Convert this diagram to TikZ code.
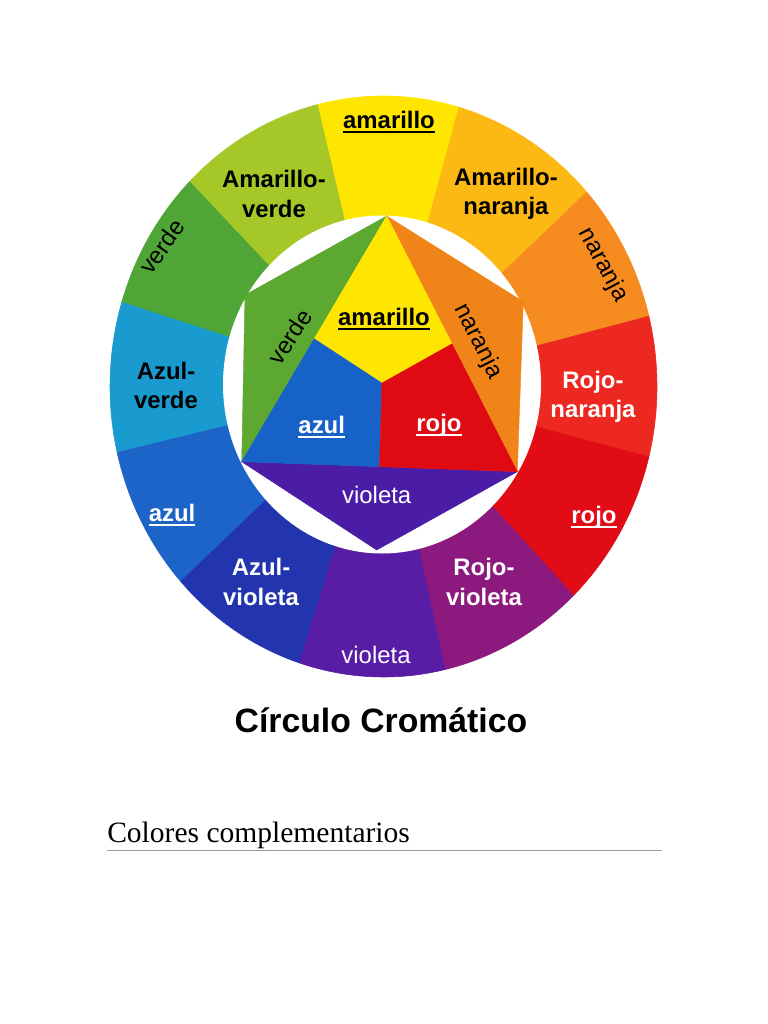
\documentclass[tikz,border=0pt]{standalone}
\usepackage{fontspec}
\setmainfont{Liberation Serif}
\newfontfamily\arialfont{Liberation Sans}
\definecolor{wAmarillo}{RGB}{255,230,0}
\definecolor{wAmNaranja}{RGB}{253,185,19}
\definecolor{wNaranja}{RGB}{246,139,31}
\definecolor{wRoNaranja}{RGB}{236,40,32}
\definecolor{wRojo}{RGB}{226,12,22}
\definecolor{wRoVioleta}{RGB}{140,25,125}
\definecolor{wVioleta}{RGB}{88,28,165}
\definecolor{wAzVioleta}{RGB}{35,52,175}
\definecolor{wAzul}{RGB}{28,100,200}
\definecolor{wAzVerde}{RGB}{25,155,208}
\definecolor{wVerde}{RGB}{80,165,55}
\definecolor{wAmVerde}{RGB}{165,200,40}
\definecolor{iAmarillo}{RGB}{255,230,0}
\definecolor{iAzul}{RGB}{22,98,200}
\definecolor{iRojo}{RGB}{224,10,18}
\definecolor{iVerde}{RGB}{93,168,48}
\definecolor{iNaranja}{RGB}{240,132,25}
\definecolor{iVioleta}{RGB}{75,28,165}
\usepackage{tikz}
\usetikzlibrary{calc}
\newsavebox\lblbox
\newcommand{\subray}[1]{\sbox\lblbox{#1}\rlap{\smash{\rule[-3.4pt]{\wd\lblbox}{1.6pt}}}\usebox\lblbox}

\begin{document}
\begin{tikzpicture}[x=0.025cm, y=-0.025cm,
    tert/.style={font=\arialfont\bfseries\fontsize{17}{21}\selectfont, align=center, inner sep=0pt},
    prim/.style={tert},
    sec/.style={font=\arialfont\fontsize{17}{21}\selectfont, inner sep=0pt}]
    \useasboundingbox (0,0) rectangle (768,1024);
    \fill[white] (0,0) rectangle (768,1024);
    % Outer ring
    \begin{scope}[shift={(383.5,386.5)}, yscale=-1]
      \foreach \a/\b/\col in {74/104/wAmarillo, 42/74/wAmNaranja, 14/42/wNaranja, -14/14/wRoNaranja,
          -46/-14/wRojo, -77/-46/wRoVioleta, -108/-77/wVioleta, -138/-108/wAzVioleta,
          -167/-138/wAzul, -197/-167/wAzVerde, 135/163/wVerde, 104/135/wAmVerde}
        \filldraw[fill=\col, draw=\col, line width=0.4pt] (0,0) -- (\a:273.5 and 290.5)
          arc[start angle=\a, end angle=\b, x radius=273.5, y radius=290.5] -- cycle;
    \end{scope}
    % White ring
    \fill[white] (382,384.5) ellipse[x radius=159, y radius=169];
    % Inner hexagon
    \coordinate (T) at (386.7,216);
    \coordinate (UL) at (245,295);
    \coordinate (LL) at (241.7,461.7);
    \coordinate (B) at (376.7,550);
    \coordinate (LR) at (517.3,471.7);
    \coordinate (UR) at (523.3,301.7);
    \coordinate (C) at (barycentric cs:T=1,LL=1,LR=1);
    \coordinate (mL) at ($(T)!0.5!(LL)$);
    \coordinate (mR) at ($(T)!0.5!(LR)$);
    \coordinate (mB) at ($(LL)!0.5!(LR)$);
    \filldraw[fill=iVerde, draw=iVerde, line width=0.3pt] (T) -- (UL) -- (LL) -- cycle;
    \filldraw[fill=iNaranja, draw=iNaranja, line width=0.3pt] (T) -- (UR) -- (LR) -- cycle;
    \filldraw[fill=iVioleta, draw=iVioleta, line width=0.3pt] (LL) -- (B) -- (LR) -- cycle;
    \filldraw[fill=iAmarillo, draw=iAmarillo, line width=0.3pt] (T) -- (mL) -- (C) -- (mR) -- cycle;
    \filldraw[fill=iAzul, draw=iAzul, line width=0.3pt] (LL) -- (mB) -- (C) -- (mL) -- cycle;
    \filldraw[fill=iRojo, draw=iRojo, line width=0.3pt] (LR) -- (mR) -- (C) -- (mB) -- cycle;
    % Outer labels
    \node[prim] (amOut) at (389,119.5) {\subray{amarillo}};
    \node[tert] (amVe) at (274,194) {Amarillo-\\verde};
    \node[tert] (amNa) at (506,194) {Amarillo-\\naranja};
    \node[sec, rotate=55] (veOut) at (162,246.5) {verde};
    \node[sec, rotate=-62] (naOut) at (603,265) {naranja};
    \node[tert] (azVe) at (166,385.5) {Azul-\\verde};
    \node[tert, white] (roNa) at (593,397) {Rojo-\\naranja};
    \node[prim, white] (azOut) at (172,513) {\subray{azul}};
    \node[prim, white] (roOut) at (594,517) {\subray{rojo}};
    \node[tert, white] (azVi) at (261,582) {Azul-\\violeta};
    \node[tert, white] (roVi) at (484,582) {Rojo-\\violeta};
    \node[sec, white] (viOut) at (376,655) {violeta};
    % Inner labels
    \node[prim] (amIn) at (384,316.7) {\subray{amarillo}};
    \node[prim, white] (azIn) at (321.7,425) {\subray{azul}};
    \node[prim, white] (roIn) at (439,425) {\subray{rojo}};
    \node[sec, white] (viIn) at (376.7,495) {violeta};
    \node[sec, rotate=57] (veIn) at (290,336.7) {verde};
    \node[sec, rotate=-63] (naIn) at (478.3,341.7) {naranja};
    % Titles
    \node[font=\arialfont\bfseries\fontsize{24}{29}\selectfont, anchor=base] (titulo) at (381,732.3) {Círculo Cromático};
    \node[font=\fontsize{21}{25}\selectfont, anchor=base west, inner sep=0pt] (subtit) at (107,842) {Colores complementarios};
    \coordinate (ruleL) at (107,850);
    \coordinate (ruleR) at (662,850);
    \draw[black!40, line width=0.7pt] (ruleL) -- (ruleR);
\end{tikzpicture}
\end{document}
